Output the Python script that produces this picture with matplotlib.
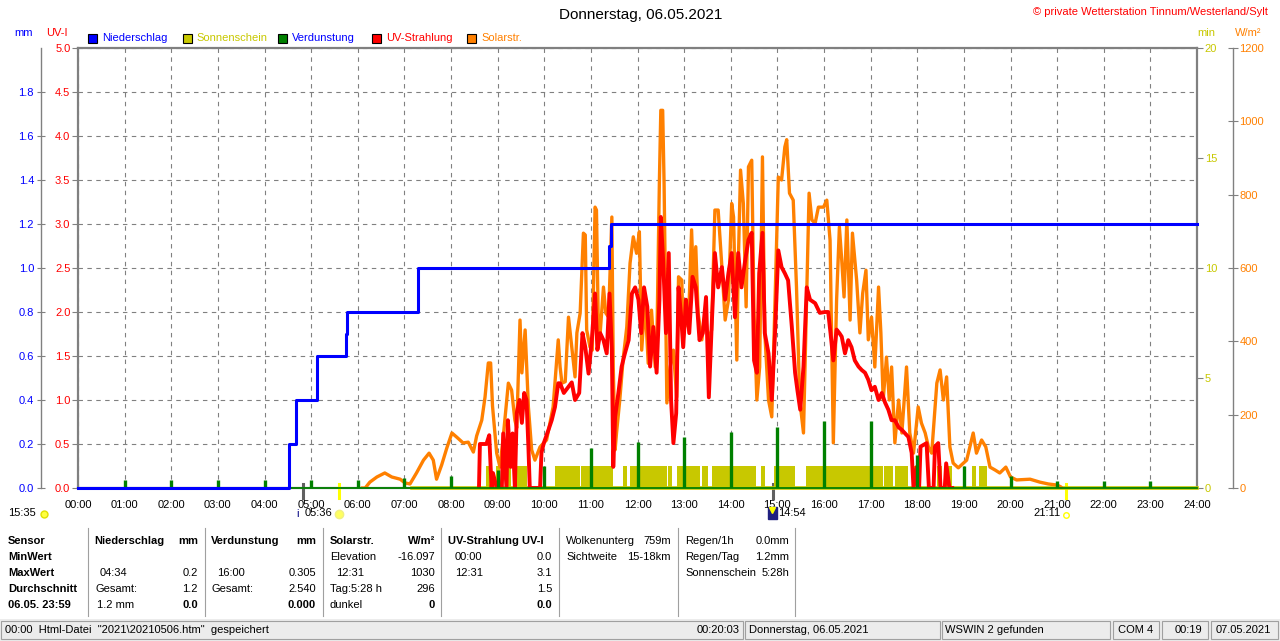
import matplotlib
matplotlib.use("Agg")
import matplotlib.pyplot as plt
from matplotlib.patches import Rectangle

plt.rcParams['font.family'] = ['Liberation Sans', 'DejaVu Sans']

W, H = 1280, 641

# ---------------- data ----------------
hours = list(range(25))
hour_labels = ["%02d:00" % h for h in hours]

# Niederschlag, kumuliert (mm)
rain_t = [0.0, 4.52, 4.68, 5.12, 5.74, 5.78, 7.30, 11.38, 11.43, 24.0]
rain_mm = [0.0, 0.2, 0.4, 0.6, 0.7, 0.8, 1.0, 1.1, 1.2, 1.2]

# Verdunstung je Stunde (mm)
evap_t = list(range(1, 24))
evap_mm = [0.035, 0.035, 0.035, 0.035, 0.035, 0.035, 0.045, 0.055, 0.08, 0.10,
           0.18, 0.21, 0.23, 0.255, 0.277, 0.305, 0.305, 0.15, 0.10, 0.055,
           0.03, 0.03, 0.03]

# Sonnenschein (min), Abschnitte mit Sonne
sun_start = 7.17
sun_on = [(8.75, 8.85), (8.97, 9.05), (9.20, 9.29), (9.42, 9.64), (10.23, 10.77),
          (10.79, 11.47), (11.69, 11.77), (11.84, 12.63), (12.66, 12.74),
          (12.85, 13.34), (13.38, 13.52), (13.60, 14.54), (14.64, 14.73),
          (14.93, 15.38), (15.61, 17.27), (17.29, 17.48), (17.52, 17.80),
          (17.90, 18.04), (18.42, 18.53), (18.60, 18.74), (19.17, 19.26),
          (19.32, 19.50)]
sun_min = 1.0

# Solarstrahlung (W/m2)
solar_t = [6.10, 6.16, 6.26, 6.41, 6.58, 6.73, 6.91, 7.01, 7.12, 7.26, 7.41, 7.53,
           7.62, 7.69, 7.80, 7.91, 8.02, 8.12, 8.26, 8.37, 8.48, 8.55, 8.66, 8.73,
           8.80, 8.85, 8.89, 8.98, 9.05, 9.12, 9.23, 9.30, 9.37, 9.41, 9.48, 9.52,
           9.59, 9.66, 9.73, 9.80, 9.91, 10.05, 10.19, 10.30, 10.34, 10.38, 10.45,
           10.52, 10.59, 10.66, 10.70, 10.77, 10.84, 10.88, 10.91, 10.98, 11.03,
           11.09, 11.12, 11.16, 11.20, 11.27, 11.32, 11.38, 11.45, 11.48, 11.52,
           11.55, 11.62, 11.69, 11.77, 11.84, 11.91, 11.98, 12.04, 12.09, 12.16,
           12.23, 12.30, 12.38, 12.42, 12.47, 12.50, 12.54, 12.57, 12.63, 12.70,
           12.77, 12.84, 12.88, 12.95, 12.98, 13.04, 13.09, 13.16, 13.20, 13.25,
           13.30, 13.38, 13.45, 13.52, 13.59, 13.66, 13.73, 13.81, 13.88, 13.95,
           14.02, 14.06, 14.13, 14.16, 14.21, 14.27, 14.33, 14.38, 14.45, 14.50,
           14.56, 14.62, 14.68, 14.73, 14.81, 14.88, 14.95, 15.02, 15.09, 15.16,
           15.20, 15.26, 15.34, 15.41, 15.48, 15.56, 15.63, 15.68, 15.74, 15.81,
           15.88, 15.99, 16.06, 16.13, 16.20, 16.27, 16.33, 16.38, 16.43, 16.49,
           16.56, 16.61, 16.70, 16.77, 16.83, 16.90, 16.95, 17.02, 17.09, 17.17,
           17.22, 17.27, 17.34, 17.40, 17.45, 17.52, 17.60, 17.67, 17.77, 17.84,
           17.92, 18.02, 18.09, 18.17, 18.24, 18.31, 18.42, 18.49, 18.56, 18.63,
           18.70, 18.77, 18.88, 19.06, 19.20, 19.27, 19.38, 19.47, 19.56, 19.67,
           19.77, 19.90, 20.00, 20.13, 20.42, 20.63, 20.81, 21.00, 21.08, 21.10]
solar_w = [0, 0, 16, 30, 41, 30, 24, 14, 11, 41, 76, 95,
           76, 24, 63, 109, 150, 139, 123, 125, 98, 142, 185, 248,
           341, 341, 224, 95, 57, 139, 286, 267, 185, 164, 458, 314,
           431, 221, 104, 76, 112, 131, 221, 404, 330, 286, 290,
           466, 385, 303, 423, 477, 695, 690, 431, 385, 376,
           766, 758, 439, 423, 548, 477, 466, 739, 330, 104,
           150, 240, 349, 439, 613, 685, 640, 699, 376, 512,
           340, 485, 330, 439, 840, 1030, 1030, 832, 232, 330,
           376, 248, 576, 567, 404, 512, 439, 704, 558, 658,
           477, 404, 477, 404, 431, 758, 758, 603, 458, 512,
           776, 739, 349, 603, 867, 776, 494, 876, 894, 477,
           240, 330, 903, 423, 240, 194, 512, 848, 840, 930,
           950, 804, 785, 548, 240, 150, 531, 804, 731, 722,
           766, 766, 785, 676, 123, 512, 712, 622, 521, 731,
           458, 695, 567, 423, 531, 594, 404, 466, 330, 548,
           423, 240, 357, 240, 330, 123, 240, 150, 330, 150,
           95, 221, 177, 150, 112, 95, 286, 322, 240, 303,
           112, 68, 55, 76, 150, 95, 131, 112, 57, 49,
           41, 57, 30, 22, 24, 16, 11, 8, 3, 0]

# UV-Strahlung (UV-I)
uv_t = [8.60, 8.62, 8.70, 8.76, 8.82, 8.87, 8.90, 8.98, 9.09, 9.12, 9.19, 9.22,
        9.28, 9.32, 9.37, 9.41, 9.47, 9.52, 9.57, 9.62, 9.66, 9.69, 9.91, 9.94,
        9.99, 10.09, 10.16, 10.23, 10.30, 10.34, 10.42, 10.52, 10.59, 10.66, 10.75,
        10.82, 10.88, 10.95, 11.02, 11.09, 11.14, 11.20, 11.27, 11.34, 11.40, 11.45,
        11.48, 11.52, 11.59, 11.66, 11.73, 11.81, 11.88, 11.95, 12.02, 12.08, 12.14,
        12.21, 12.27, 12.34, 12.41, 12.47, 12.50, 12.55, 12.61, 12.67, 12.72, 12.77,
        12.83, 12.88, 12.93, 12.98, 13.04, 13.11, 13.18, 13.25, 13.33, 13.40, 13.47,
        13.53, 13.59, 13.66, 13.73, 13.81, 13.88, 13.95, 14.02, 14.09, 14.16, 14.23,
        14.31, 14.38, 14.45, 14.50, 14.56, 14.61, 14.68, 14.73, 14.81, 14.88, 14.95,
        15.02, 15.09, 15.16, 15.23, 15.31, 15.38, 15.43, 15.49, 15.56, 15.63, 15.70,
        15.81, 15.91, 16.02, 16.09, 16.14, 16.20, 16.27, 16.33, 16.38, 16.45, 16.52,
        16.59, 16.66, 16.74, 16.81, 16.88, 16.95, 17.02, 17.09, 17.17, 17.24, 17.31,
        17.38, 17.45, 17.52, 17.60, 17.67, 17.74, 17.81, 17.88, 17.92, 17.99, 18.04,
        18.07, 18.20, 18.25, 18.35, 18.38, 18.45, 18.50, 18.59, 18.62, 18.69, 18.75]
uv_i = [0, 0.5, 0.5, 0.5, 0.60, 0, 0.17, 0, 0, 0.62, 0, 0.77,
        0.24, 0.62, 0, 0.85, 1.0, 0.74, 1.08, 1.0, 0.47, 0, 0, 0.40,
        0.51, 0.66, 0.77, 0.92, 1.19, 1.19, 1.08, 1.15, 1.2, 1.0, 1.08,
        1.76, 1.60, 1.30, 1.68, 2.21, 1.57, 1.76, 1.68, 1.53, 2.21, 1.57,
        0.24, 0.81, 1.08, 1.38, 1.53, 1.68, 2.21, 2.28, 2.14, 1.76, 2.28,
        2.06, 1.38, 1.83, 1.31, 2.14, 3.08, 2.59, 1.76, 2.67, 1.0, 0.51,
        0.85, 2.28, 1.99, 1.60, 2.14, 1.76, 2.40, 2.28, 1.68, 1.76, 2.17,
        1.03, 1.83, 2.67, 2.28, 2.51, 2.14, 2.44, 2.67, 1.94, 2.67, 2.28,
        2.59, 2.82, 2.90, 1.45, 1.31, 2.44, 2.90, 1.76, 1.53, 1.0, 1.76,
        2.70, 2.51, 2.44, 2.36, 1.83, 1.31, 1.11, 0.89, 1.38, 2.28, 2.14,
        2.10, 1.99, 2.0, 2.0, 1.76, 1.45, 1.80, 1.76, 1.72, 1.53, 1.68,
        1.60, 1.45, 1.38, 1.34, 1.31, 1.23, 1.11, 1.15, 1.0, 1.08, 0.97,
        0.89, 0.77, 0.77, 0.69, 0.66, 0.62, 0.58, 0.40, 0, 0.24, 0,
        0.47, 0.51, 0, 0, 0.47, 0.51, 0, 0, 0.28, 0, 0]

uv_ticks = [i * 0.5 for i in range(11)]
mm_ticks = [i * 0.2 for i in range(10)]
min_ticks = [0, 5, 10, 15, 20]
w_ticks = [0, 200, 400, 600, 800, 1000, 1200]

C_BLUE, C_SUN, C_GREEN, C_RED, C_ORANGE = '#0000ff', '#c8c800', '#008000', '#ff0000', '#ff8000'
GRAY = '#808080'

# ---------------- figure ----------------
fig = plt.figure(figsize=(W / 100, H / 100), dpi=100)
L, R, T, B = 78, 1197, 48, 488
ax = fig.add_axes([L / W, 1 - B / H, (R - L) / W, (B - T) / H])
ax.set_xlim(0, 24)
ax.set_ylim(0, 5)
ax.set_xticks(hours)
ax.set_xticklabels(hour_labels, fontsize=8)
ax.tick_params(axis='x', length=0, pad=9)
ax.set_yticks(uv_ticks)
ax.set_yticklabels(["%.1f" % v for v in uv_ticks], fontsize=8)
ax.tick_params(axis='y', length=4.5, color=GRAY, pad=1, labelcolor=C_RED)
ax.grid(True, color=GRAY, lw=0.8, ls=(0, (4, 4)))
for s in ax.spines.values():
    s.set_color(GRAY)
    s.set_linewidth(1.6)

def twin(ylim):
    t = ax.twinx()
    t.set_ylim(*ylim)
    for s in t.spines.values():
        s.set_visible(False)
    return t

ax_min = twin((0, 20))
ax_min.set_yticks(min_ticks)
ax_min.set_yticklabels([str(v) for v in min_ticks], fontsize=8)
ax_min.tick_params(axis='y', length=4.5, color=GRAY, pad=1, labelcolor=C_SUN)

ax_w = twin((0, 1200))
ax_w.spines['right'].set_visible(True)
ax_w.spines['right'].set_position(('axes', (1233 - L) / (R - L)))
ax_w.spines['right'].set_color(GRAY)
ax_w.spines['right'].set_linewidth(1)
ax_w.set_yticks(w_ticks)
ax_w.set_yticklabels([str(v) for v in w_ticks], fontsize=8)
ax_w.tick_params(axis='y', direction='inout', length=7, color=GRAY, pad=1, labelcolor=C_ORANGE)

ax_uv = twin((0, 5))
ax_uv.set_yticks([])

ax_mm = twin((0, 2))
ax_mm.yaxis.tick_left()
ax_mm.spines['left'].set_visible(True)
ax_mm.spines['left'].set_position(('axes', (41 - L) / (R - L)))
ax_mm.spines['left'].set_color(GRAY)
ax_mm.spines['left'].set_linewidth(1)
ax_mm.set_yticks(mm_ticks)
ax_mm.set_yticklabels(["%.1f" % v for v in mm_ticks], fontsize=8)
ax_mm.tick_params(axis='y', direction='inout', length=6, color=GRAY, pad=2, labelcolor=C_BLUE)

# Sonnenschein
st, sv = [sun_start], [0]
for a, b in sun_on:
    st += [a, b]
    sv += [sun_min, 0]
st.append(24)
sv.append(0)
ax_min.fill_between(st, sv, step='post', color=C_SUN, lw=0)
ax_min.plot([sun_start, 24], [0, 0], color=C_SUN, lw=2.6, clip_on=False)

# Solarstrahlung, UV
ax_w.plot(solar_t, solar_w, color=C_ORANGE, lw=2.4)
ax_uv.plot(uv_t, uv_i, color=C_RED, lw=2.8)

# Verdunstung, Niederschlag
ax_mm.plot([0, 24], [0, 0], color=C_GREEN, lw=1.3, clip_on=False)
ax_mm.vlines(evap_t, 0, evap_mm, color=C_GREEN, lw=2.4)
ax_mm.step(rain_t, rain_mm, where='post', color=C_BLUE, lw=2.2, clip_on=False)

# Sonnenauf-/untergang Marken
for t, c in [(4.82, '#606060'), (5.60, '#ffff00'), (14.90, '#606060'), (21.18, '#ffff00')]:
    ax.plot([t, t], [0.01, -0.022], transform=ax.get_xaxis_transform(),
            color=c, lw=2.2, clip_on=False, zorder=10)

# ---------------- overlay texts ----------------
ov = fig.add_axes([0, 0, 1, 1])
ov.set_xlim(0, W)
ov.set_ylim(H, 0)
ov.axis('off')

ov.text(641, 15, "Donnerstag, 06.05.2021", fontsize=11, ha='center', va='center')
ov.text(1268, 12, "© private Wetterstation Tinnum/Westerland/Sylt", fontsize=8,
        color=C_RED, ha='right', va='center')
ov.text(14, 33, "mm", fontsize=8, color=C_BLUE, va='center')
ov.text(46, 33, "UV-I", fontsize=8, color=C_RED, va='center')
ov.text(1197, 33, "min", fontsize=8, color=C_SUN, va='center')
ov.text(1235, 33, "W/m²", fontsize=8, color=C_ORANGE, va='center')

legend = [("Niederschlag", C_BLUE, C_BLUE), ("Sonnenschein", C_SUN, C_SUN),
          ("Verdunstung", C_GREEN, C_BLUE), ("UV-Strahlung", C_RED, C_RED),
          ("Solarstr.", C_ORANGE, C_ORANGE)]
for i, (lab, sq, tc) in enumerate(legend):
    x0 = 88 + i * 94.8
    ov.add_patch(Rectangle((x0, 33.5), 9, 9, fc=sq, ec='black', lw=0.8))
    ov.text(x0 + 14, 38, lab, fontsize=8, color=tc, va='center')

# bottom time marks
ov.text(8, 513, "15:35", fontsize=8, va='center')
ov.plot([44], [514], marker='o', ms=5, color='#ffff40', mec='#e0e000')
ov.text(296, 514, "i", fontsize=8, color='#000080', va='center')
ov.text(305, 513, "05:36", fontsize=8, va='center')
ov.plot([339], [514], marker='o', ms=6, color='#ffff60', mec='#f0f080')
ov.add_patch(Rectangle((768, 507), 9, 12, fc='#202080', ec='#202080'))
ov.plot([772], [510], marker='v', ms=4, color='#ffff00')
ov.text(778, 513, "14:54", fontsize=8, va='center')
ov.text(1033, 513, "21:11", fontsize=8, va='center')
ov.plot([1066], [515], marker='o', ms=4, mfc='none', mec='#ffff00', mew=1)

# table
rows_y = [541, 557, 573, 589, 605]
for x in [88, 205, 323, 441, 559, 678, 795]:
    ov.plot([x, x], [528, 616], color='#a0a0a0', lw=0.8)

def tx(x, r, s, bold=False, ha='left'):
    ov.text(x, rows_y[r], s, fontsize=8, ha=ha, va='center',
            fontweight='bold' if bold else 'normal')

for r, s in enumerate(["Sensor", "MinWert", "MaxWert", "Durchschnitt", "06.05. 23:59"]):
    tx(8, r, s, bold=True)

tx(94, 0, "Niederschlag", True); tx(198, 0, "mm", True, 'right')
tx(100, 2, "04:34"); tx(198, 2, "0.2", ha='right')
tx(95, 3, "Gesamt:"); tx(198, 3, "1.2", ha='right')
tx(97, 4, "1.2 mm"); tx(198, 4, "0.0", True, 'right')

tx(211, 0, "Verdunstung", True); tx(316, 0, "mm", True, 'right')
tx(217, 2, "16:00"); tx(316, 2, "0.305", ha='right')
tx(211, 3, "Gesamt:"); tx(316, 3, "2.540", ha='right')
tx(316, 4, "0.000", True, 'right')

tx(330, 0, "Solarstr.", True); tx(435, 0, "W/m²", True, 'right')
tx(330, 1, "Elevation"); tx(435, 1, "-16.097", ha='right')
tx(336, 2, "12:31"); tx(435, 2, "1030", ha='right')
tx(330, 3, "Tag:5:28 h"); tx(435, 3, "296", ha='right')
tx(330, 4, "dunkel"); tx(435, 4, "0", True, 'right')

tx(448, 0, "UV-Strahlung UV-I", True)
tx(455, 1, "00:00"); tx(552, 1, "0.0", ha='right')
tx(455, 2, "12:31"); tx(552, 2, "3.1", ha='right')
tx(552, 3, "1.5", ha='right')
tx(552, 4, "0.0", True, 'right')

tx(566, 0, "Wolkenunterg"); tx(671, 0, "759m", ha='right')
tx(566, 1, "Sichtweite"); tx(671, 1, "15-18km", ha='right')

tx(685, 0, "Regen/1h"); tx(789, 0, "0.0mm", ha='right')
tx(685, 1, "Regen/Tag"); tx(789, 1, "1.2mm", ha='right')
tx(685, 2, "Sonnenschein"); tx(789, 2, "5:28h", ha='right')

# status bar
ov.add_patch(Rectangle((0, 619), W, 22, fc='#ececec', ec='none'))
panels = [(1, 743), (745, 940), (942, 1110), (1113, 1159), (1162, 1208), (1211, 1278)]
for a, b in panels:
    ov.add_patch(Rectangle((a, 621), b - a, 18, fc='none', ec='#a0a0a0', lw=0.8))
ov.text(5, 630, '00:00  Html-Datei  "2021\\20210506.htm"  gespeichert', fontsize=8, va='center')
ov.text(740, 630, "00:20:03", fontsize=8, va='center', ha='right')
ov.text(749, 630, "Donnerstag, 06.05.2021", fontsize=8, va='center')
ov.text(945, 630, "WSWIN 2 gefunden", fontsize=8, va='center')
ov.text(1118, 630, "COM 4", fontsize=8, va='center')
ov.text(1175, 630, "00:19", fontsize=8, va='center')
ov.text(1216, 630, "07.05.2021", fontsize=8, va='center')

fig.savefig("out.png", dpi=100)
